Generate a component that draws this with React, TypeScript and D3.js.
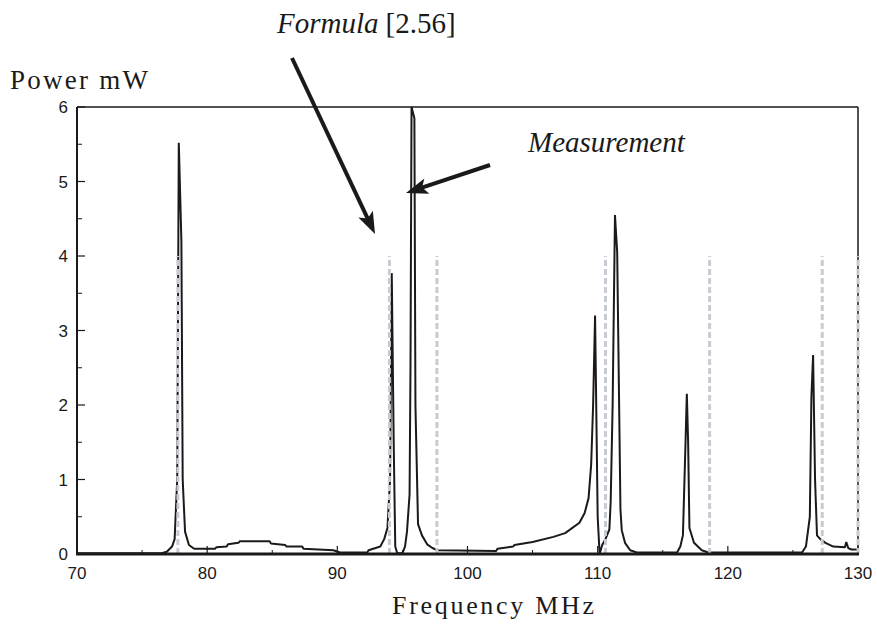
import React from "react";
import * as d3 from "d3";

const measFreq = [70, 76.5, 76.9, 77.3, 77.5, 77.7, 77.82, 78.02, 78.12, 78.3, 78.6, 79.0, 80.6, 80.7, 81.5, 81.6, 82.4, 82.5, 84.8, 84.9, 86.0, 86.1, 87.3, 87.4, 89.7, 90.2, 92.3, 92.4, 93.3, 93.6, 93.85, 94.05, 94.18, 94.33, 94.45, 94.6, 95.0, 95.2, 95.35, 95.55, 95.62, 95.7, 95.92, 96.0, 96.2, 96.5, 96.9, 97.3, 97.7, 102.2, 102.3, 103.5, 103.6, 105.0, 106.6, 107.5, 107.9, 108.6, 109.0, 109.3, 109.5, 109.65, 109.8, 110.0, 110.15, 110.35, 110.6, 110.9, 111.0, 111.15, 111.33, 111.5, 111.75, 111.85, 112.1, 112.5, 113.0, 116.1, 116.35, 116.55, 116.75, 116.85, 116.95, 117.05, 117.4, 118.0, 118.5, 125.7, 126.0, 126.3, 126.42, 126.55, 126.7, 126.85, 127.1, 127.5, 128.1, 129.0, 129.1, 129.25, 129.5, 130];
const measPower = [0.01, 0.01, 0.03, 0.1, 0.2, 1.0, 5.52, 4.2, 1.0, 0.3, 0.12, 0.07, 0.07, 0.09, 0.1, 0.13, 0.15, 0.17, 0.17, 0.14, 0.12, 0.1, 0.1, 0.07, 0.05, 0.02, 0.02, 0.05, 0.1, 0.2, 0.35, 1.0, 3.77, 1.5, 0.1, 0.01, 0.01, 0.1, 0.3, 0.8, 2.5, 6.0, 5.85, 2.0, 0.4, 0.25, 0.13, 0.08, 0.05, 0.04, 0.07, 0.1, 0.12, 0.16, 0.23, 0.28, 0.33, 0.42, 0.55, 0.75, 1.2, 2.0, 3.2, 0.5, 0.0, 0.12, 0.2, 0.33, 0.7, 2.0, 4.55, 4.05, 0.6, 0.32, 0.15, 0.05, 0.02, 0.02, 0.1, 0.25, 1.5, 2.15, 1.5, 0.35, 0.15, 0.05, 0.02, 0.02, 0.1, 0.5, 2.1, 2.67, 1.0, 0.25, 0.2, 0.15, 0.1, 0.09, 0.16, 0.08, 0.06, 0.06];

const formulaFreq = [77.75, 94.0, 97.65, 110.6, 118.6, 127.25, 130.0];
const formulaPower = [4, 4, 4, 4, 4, 4, 4];

const xTicks = [70, 80, 90, 100, 110, 120, 130];
const xMinor = [75, 85, 95, 105, 115, 125];
const yTicks = [0, 1, 2, 3, 4, 5, 6];
const yMinor = [0.5, 1.5, 2.5, 3.5, 4.5, 5.5];

function Arrow({ x1, y1, x2, y2 }: { x1: number; y1: number; x2: number; y2: number }) {
  const dx = x2 - x1, dy = y2 - y1;
  const L = Math.hypot(dx, dy);
  const ux = dx / L, uy = dy / L;
  const hl = 22, hw = 8;
  const bx = x2 - ux * hl, by = y2 - uy * hl;
  const px = -uy, py = ux;
  const pts = `${x2},${y2} ${bx + px * hw},${by + py * hw} ${bx + ux * 5},${by + uy * 5} ${bx - px * hw},${by - py * hw}`;
  return (
    <g>
      <line x1={x1} y1={y1} x2={bx + ux * 6} y2={by + uy * 6} stroke="#1a1a1a" strokeWidth={4} />
      <polygon points={pts} fill="#1a1a1a" />
    </g>
  );
}

export default function App() {
  const W = 877, H = 628;
  const x = d3.scaleLinear().domain([70, 130]).range([77, 858]);
  const y = d3.scaleLinear().domain([0, 6]).range([554, 107]);
  const data = measFreq.map((f, i) => [f, measPower[i]] as [number, number]);
  const line = d3.line<[number, number]>().x((d) => x(d[0])).y((d) => y(d[1]));

  return (
    <svg width={W} height={H} style={{ position: "absolute", left: 0, top: 0, background: "#fff" }}>
      <rect x={0} y={0} width={W} height={H} fill="#fff" />
      {/* frame */}
      <line x1={x(70)} y1={y(6)} x2={x(130)} y2={y(6)} stroke="#1a1a1a" strokeWidth={1.5} />
      <line x1={x(130)} y1={y(6)} x2={x(130)} y2={y(0)} stroke="#1a1a1a" strokeWidth={1.5} />
      <line x1={x(70)} y1={y(6)} x2={x(70)} y2={y(0)} stroke="#1a1a1a" strokeWidth={2} />
      {/* ticks */}
      {yTicks.map((t) => (
        <line key={"yt" + t} x1={x(70)} x2={x(70) + 8} y1={y(t)} y2={y(t)} stroke="#1a1a1a" strokeWidth={1.2} />
      ))}
      {yMinor.map((t) => (
        <line key={"ym" + t} x1={x(70)} x2={x(70) + 5} y1={y(t)} y2={y(t)} stroke="#1a1a1a" strokeWidth={1} />
      ))}
      {xTicks.map((t) => (
        <line key={"xt" + t} x1={x(t)} x2={x(t)} y1={y(0)} y2={y(0) - 8} stroke="#1a1a1a" strokeWidth={1.2} />
      ))}
      {xMinor.map((t) => (
        <line key={"xm" + t} x1={x(t)} x2={x(t)} y1={y(0)} y2={y(0) - 4} stroke="#1a1a1a" strokeWidth={1} />
      ))}
      {/* measurement */}
      <path d={line(data) || ""} fill="none" stroke="#1a1a1a" strokeWidth={2} strokeLinejoin="bevel" />
      {/* formula */}
      {formulaFreq.map((f, i) => (
        <line key={"f" + i} x1={x(f)} x2={x(f)} y1={y(0)} y2={y(formulaPower[i])} stroke="#c5cbd2" strokeWidth={3} strokeDasharray="6,3" />
      ))}
      {/* bottom axis */}
      <line x1={x(70) - 1} y1={y(0)} x2={x(130) + 1} y2={y(0)} stroke="#1a1a1a" strokeWidth={3} />
      {/* tick labels */}
      {yTicks.map((t) => (
        <text key={"yl" + t} x={68} y={y(t) + 6} textAnchor="end" fontFamily="Liberation Sans, Arial, sans-serif" fontSize={17} fill="#1a1a1a">{t}</text>
      ))}
      {xTicks.map((t) => (
        <text key={"xl" + t} x={x(t)} y={579} textAnchor="middle" fontFamily="Liberation Sans, Arial, sans-serif" fontSize={17} fill="#1a1a1a">{t}</text>
      ))}
      {/* axis titles */}
      <text x={10} y={89} fontFamily="Liberation Serif, Times New Roman, serif" fontSize={27} fill="#1a1a1a" textLength={138} lengthAdjust="spacing">Power mW</text>
      <text x={392} y={614} fontFamily="Liberation Serif, Times New Roman, serif" fontSize={26} fill="#1a1a1a" textLength={202} lengthAdjust="spacing">Frequency MHz</text>
      {/* annotations */}
      <text x={277} y={33} fontFamily="Liberation Serif, Times New Roman, serif" fontSize={29} fill="#1a1a1a">
        <tspan fontStyle="italic">Formula</tspan>
        <tspan dx={7}>[2.56]</tspan>
      </text>
      <text x={528} y={152} fontFamily="Liberation Serif, Times New Roman, serif" fontSize={29} fontStyle="italic" fill="#1a1a1a">Measurement</text>
      <Arrow x1={292} y1={58} x2={375} y2={234} />
      <Arrow x1={490} y1={165} x2={406} y2={193} />
    </svg>
  );
}
